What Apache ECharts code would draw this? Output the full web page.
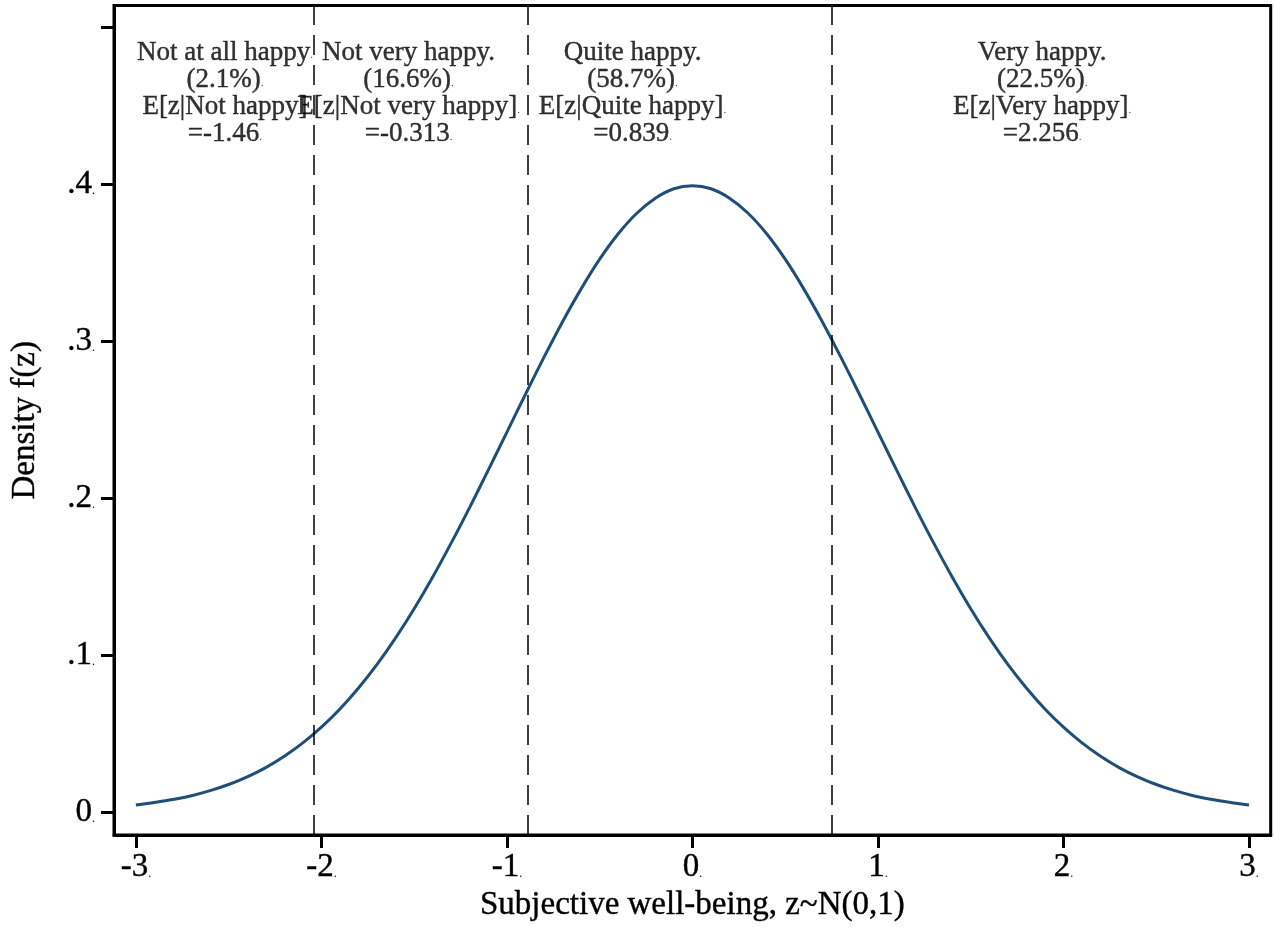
<!DOCTYPE html>
<html>
<head>
<meta charset="utf-8">
<title>Subjective well-being density</title>
<script src="https://cdn.jsdelivr.net/npm/echarts@6/dist/echarts.min.js"></script>
<style>
  html, body { margin: 0; padding: 0; background: #fff; }
  #chart { width: 1275px; height: 930px; }
</style>
</head>
<body>
<div id="chart"></div>
<script>
// values
const zValues = [
  -3.0, -2.9, -2.8, -2.7, -2.6, -2.5, -2.4, -2.3, -2.2, -2.1,
  -2.0, -1.9, -1.8, -1.7, -1.6, -1.5, -1.4, -1.3, -1.2, -1.1,
  -1.0, -0.9, -0.8, -0.7, -0.6, -0.5, -0.4, -0.3, -0.2, -0.1,
  0.0, 0.1, 0.2, 0.3, 0.4, 0.5, 0.6, 0.7, 0.8, 0.9,
  1.0, 1.1, 1.2, 1.3, 1.4, 1.5, 1.6, 1.7, 1.8, 1.9,
  2.0, 2.1, 2.2, 2.3, 2.4, 2.5, 2.6, 2.7, 2.8, 2.9, 3.0
];
const density = [
  0.0044, 0.0060, 0.0079, 0.0104, 0.0136, 0.0175, 0.0224, 0.0283, 0.0355, 0.0440,
  0.0540, 0.0656, 0.0790, 0.0940, 0.1109, 0.1295, 0.1497, 0.1714, 0.1942, 0.2179,
  0.2420, 0.2661, 0.2897, 0.3123, 0.3332, 0.3521, 0.3683, 0.3814, 0.3910, 0.3970,
  0.3989, 0.3970, 0.3910, 0.3814, 0.3683, 0.3521, 0.3332, 0.3123, 0.2897, 0.2661,
  0.2420, 0.2179, 0.1942, 0.1714, 0.1497, 0.1295, 0.1109, 0.0940, 0.0790, 0.0656,
  0.0540, 0.0440, 0.0355, 0.0283, 0.0224, 0.0175, 0.0136, 0.0104, 0.0079, 0.0060, 0.0044
];
const cutoffs = [-2.035, -0.89, 0.754];

const xTicks = [-3, -2, -1, 0, 1, 2, 3];
const yTicks = [0, 0.1, 0.2, 0.3, 0.4, 0.5];
const yLabels = [0, 0.1, 0.2, 0.3, 0.4];

const groupNames = ['Not at all happy', 'Not very happy', 'Quite happy', 'Very happy'];
const groupShares = ['2.1%', '16.6%', '58.7%', '22.5%'];
const groupMeanLabels = ['E[z|Not happy]', 'E[z|Not very happy]', 'E[z|Quite happy]', 'E[z|Very happy]'];
const groupMeans = ['-1.46', '-0.313', '0.839', '2.256'];
const labelX = [-2.52, -1.53, -0.323, 1.885];
const labelY = 0.4925;

const serif = '"Liberation Serif", "Times New Roman", serif';
const dot = '{d|.}';
// slight outline so the serif text reads as heavy as the original
const ink = { color: '#000', textBorderColor: '#000', textBorderWidth: 0.4 };

function tickText(s) {
  return '{n|' + s + '}' + dot;
}

const labelPoints = labelX.map((x, i) => ({
  value: [x, labelY],
  label: {
    formatter: [
      '{t|' + groupNames[i] + (i === 0 ? '}' + dot : '.}'),
      '{t|(' + groupShares[i] + ')}' + dot,
      '{t|' + groupMeanLabels[i] + '}' + (i === 0 ? '' : dot),
      '{t|=' + groupMeans[i] + '}' + dot
    ].join('\n')
  }
}));

const tickRich = {
  n: Object.assign({ fontFamily: serif, fontSize: 33 }, ink),
  d: { fontFamily: serif, fontSize: 12, color: '#000', verticalAlign: 'bottom', padding: [0, 0, 4, 0] }
};

const chart = echarts.init(document.getElementById('chart'));
chart.setOption({
  animation: false,
  backgroundColor: '#fff',
  textStyle: { fontFamily: serif, color: '#000' },
  grid: {
    left: 114, right: 4.3, top: 5.5, bottom: 95,
    show: true, borderColor: '#000', borderWidth: 3, backgroundColor: '#fff'
  },
  xAxis: {
    type: 'value',
    min: -3.118, max: 3.117,
    name: 'Subjective well-being, z~N(0,1)',
    nameLocation: 'middle',
    nameGap: 52,
    nameTextStyle: Object.assign({ fontFamily: serif, fontSize: 33 }, ink),
    axisLine: { show: true, onZero: false, lineStyle: { color: '#000', width: 3 } },
    axisTick: { show: true, length: 13, lineStyle: { color: '#000', width: 3 }, customValues: xTicks },
    axisLabel: {
      margin: 16,
      customValues: xTicks,
      formatter: v => tickText(String(v)),
      rich: tickRich
    },
    splitLine: { show: false }
  },
  yAxis: {
    type: 'value',
    min: -0.01465, max: 0.5137,
    name: 'Density f(z)',
    nameLocation: 'middle',
    nameGap: 72,
    nameTextStyle: Object.assign({ fontFamily: serif, fontSize: 33 }, ink),
    axisLine: { show: true, onZero: false, lineStyle: { color: '#000', width: 3 } },
    axisTick: { show: true, length: 13, lineStyle: { color: '#000', width: 3 }, customValues: yTicks },
    axisLabel: {
      margin: 19,
      customValues: yLabels,
      formatter: v => tickText(v === 0 ? '0' : String(v).replace('0.', '.')),
      rich: tickRich
    },
    splitLine: { show: false }
  },
  series: [
    {
      type: 'line',
      data: zValues.map((z, i) => [z, density[i]]),
      showSymbol: false,
      smooth: 0.3,
      lineStyle: { color: '#1f4e79', width: 3 },
      itemStyle: { color: '#1f4e79' },
      markLine: {
        silent: true,
        symbol: ['none', 'none'],
        label: { show: false },
        lineStyle: { color: '#000', width: 1.5, type: [20, 10] },
        data: cutoffs.map(c => ({ xAxis: c }))
      },
      z: 3
    },
    {
      type: 'scatter',
      data: labelPoints,
      symbolSize: 0,
      silent: true,
      label: {
        show: true,
        position: 'bottom',
        distance: 0,
        align: 'center',
        color: '#000',
        rich: {
          t: Object.assign({ fontFamily: serif, fontSize: 27, lineHeight: 27.3 }, ink),
          d: { fontFamily: serif, fontSize: 11, lineHeight: 27.3, color: '#000', verticalAlign: 'bottom', padding: [0, 0, 5, 0] }
        }
      },
      z: 4
    }
  ]
});
</script>
</body>
</html>
